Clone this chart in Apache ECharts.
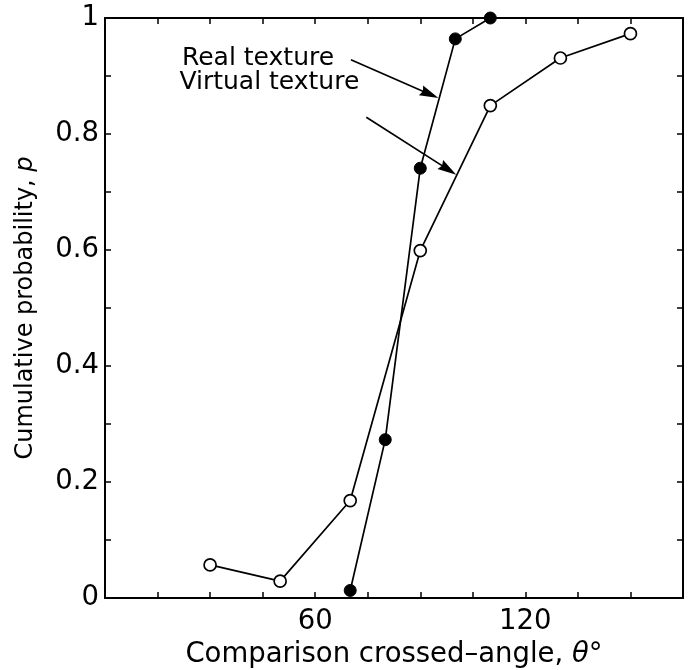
<!DOCTYPE html>
<html>
<head>
<meta charset="utf-8">
<script src="https://cdn.jsdelivr.net/npm/echarts@6/dist/echarts.min.js"></script>
<style>
html,body{margin:0;padding:0;background:#fff;}
#chart{width:692px;height:670px;}
</style>
</head>
<body>
<div id="chart"></div>
<script>
// Data
const virtualAngles = [30, 50, 70, 90, 110, 130, 150];
const virtualProb   = [0.057, 0.029, 0.168, 0.599, 0.849, 0.931, 0.973];
const realAngles    = [70, 80, 90, 100, 110];
const realProb      = [0.013, 0.273, 0.741, 0.964, 1.0];
const xTickLabels   = [60, 120];
const yTickLabels   = [0, 0.2, 0.4, 0.6, 0.8, 1];
// Annotations (data coordinates)
const realLabel     = { text: 'Real texture', at: [65.4, 0.93] };
const virtualLabel  = { text: 'Virtual texture', at: [72.6, 0.888] };
const realArrow     = [[70.2, 0.928], [92.7, 0.8686]];
const virtualArrow  = [[74.6, 0.829], [98.0, 0.7386]];

const FONT = 'DejaVu Sans, Verdana, sans-serif';
const FS_AX = 27.5;  // axis tick labels and x title
const FS_AN = 25;    // annotations
const FS_Y = 24;     // rotated y-axis title
const black = '#000';
const ARROW = 'path://M5,0L10,18L5,16L0,18Z';

function pair(arrX, arrY) { return arrX.map((x, i) => [x, arrY[i]]); }

const commonAxisLine = { show: true, onZero: false, lineStyle: { color: black, width: 2 } };
const commonTick = { show: true, inside: true, length: 6, lineStyle: { color: black, width: 1.5 } };

function arrowLine(pts) {
  return {
    silent: true, animation: false,
    symbol: ['none', ARROW], symbolSize: 19, symbolKeepAspect: true,
    label: { show: false },
    lineStyle: { color: black, width: 1.7, type: 'solid' },
    itemStyle: { color: black },
    emphasis: { disabled: true },
    data: [[{ coord: pts[0] }, { coord: pts[1] }]]
  };
}
function textPoint(lbl) {
  return {
    silent: true, animation: false,
    data: [{
      coord: lbl.at, symbol: 'circle', symbolSize: 0,
      label: { show: true, position: 'left', distance: 0, formatter: lbl.text,
        color: black, fontFamily: FONT, fontSize: FS_AN }
    }]
  };
}

const option = {
  animation: false,
  backgroundColor: '#fff',
  grid: { left: 105, right: 9, top: 18, bottom: 72, containLabel: false, outerBoundsMode: 'none' },
  xAxis: [
    {
      type: 'value', position: 'bottom', min: 0, max: 165, interval: 15,
      axisLine: commonAxisLine, axisTick: commonTick, splitLine: { show: false },
      axisLabel: {
        color: black, fontFamily: FONT, fontSize: FS_AX, margin: 10,
        formatter: v => (xTickLabels.indexOf(v) >= 0 ? String(v) : '')
      },
      name: 'Comparison crossed\u2013angle, {i|\u03b8}\u00b0',
      nameLocation: 'middle', nameGap: 42,
      nameTextStyle: { color: black, fontFamily: FONT, fontSize: FS_AX,
        rich: { i: { fontStyle: 'italic', fontFamily: FONT, fontSize: FS_AX, color: black } } }
    },
    {
      type: 'value', position: 'top', min: 0, max: 165, interval: 15,
      axisLine: commonAxisLine, axisTick: commonTick, axisLabel: { show: false }, splitLine: { show: false }
    }
  ],
  yAxis: [
    {
      type: 'value', position: 'left', min: 0, max: 1, interval: 0.1,
      axisLine: commonAxisLine, axisTick: commonTick, splitLine: { show: false },
      axisLabel: {
        color: black, fontFamily: FONT, fontSize: FS_AX, margin: 6,
        formatter: v => {
          const r = Math.round(v * 10) / 10;
          return yTickLabels.some(t => Math.abs(t - r) < 1e-9) ? String(r) : '';
        }
      },
      name: 'Cumulative probability, {i|p}',
      nameLocation: 'middle', nameGap: 67,
      nameTextStyle: { color: black, fontFamily: FONT, fontSize: FS_Y,
        rich: { i: { fontStyle: 'italic', fontFamily: FONT, fontSize: FS_Y, color: black } } }
    },
    {
      type: 'value', position: 'right', min: 0, max: 1, interval: 0.1,
      axisLine: commonAxisLine, axisTick: commonTick, axisLabel: { show: false }, splitLine: { show: false }
    }
  ],
  series: [
    {
      name: 'Virtual texture', type: 'line', xAxisIndex: 0, yAxisIndex: 0,
      data: pair(virtualAngles, virtualProb), clip: false, z: 3,
      symbol: 'circle', symbolSize: 12,
      lineStyle: { color: black, width: 1.7 },
      itemStyle: { color: '#fff', borderColor: black, borderWidth: 1.7 },
      markPoint: textPoint(virtualLabel),
      markLine: arrowLine(virtualArrow)
    },
    {
      name: 'Real texture', type: 'line', xAxisIndex: 0, yAxisIndex: 0,
      data: pair(realAngles, realProb), clip: false, z: 4,
      symbol: 'circle', symbolSize: 12,
      lineStyle: { color: black, width: 1.7 },
      itemStyle: { color: black, borderColor: black, borderWidth: 1 },
      markPoint: textPoint(realLabel),
      markLine: arrowLine(realArrow)
    }
  ]
};

const chart = echarts.init(document.getElementById('chart'), null, { renderer: 'canvas' });
chart.setOption(option);
</script>
</body>
</html>
